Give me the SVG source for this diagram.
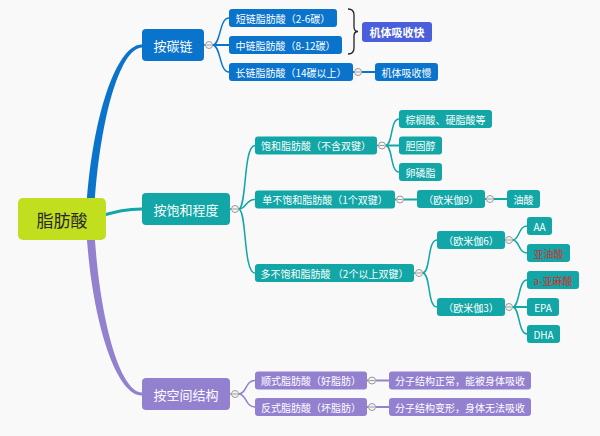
<svg xmlns="http://www.w3.org/2000/svg" width="600" height="436" viewBox="0 0 600 436">
<style>
text{font-family:"Noto Sans CJK SC","Noto Sans",sans-serif;text-anchor:middle;dominant-baseline:central;fill:#fff}
.s{font-size:10px}
.m{font-size:13px}
.b{fill:#0a74cc}
.t{fill:#12a6a6}
.p{fill:#9381d0}
.lb{stroke:#0a74cc;stroke-width:1.5;fill:none}
.lt{stroke:#12a6a6;stroke-width:1.5;fill:none}
.lp{stroke:#9381d0;stroke-width:1.5;fill:none}
.tg circle{fill:#f4f4f4;stroke:#9a9a9a;stroke-width:1}
.tg path{stroke:#9a9a9a;stroke-width:1}
.red{fill:#d0302c}
</style>
<rect width="600" height="436" fill="#f9f9f9"/>
<g id="connectors">
<path d="M86 215 C91 120 116 44 142 44.5 L142 47.5 C120 48 99 120 94 215 Z" fill="#0a74cc"/>
<path d="M86 225 C91 320 116 396 142 395.5 L142 392.5 C120 392 99 320 94 225 Z" fill="#9381d0"/>
<path d="M100 216 C115 212 125 209 142 209" stroke="#12a6a6" stroke-width="3" fill="none"/>
<g class="lb">
<path d="M204 45 L205.5 45"/>
<path d="M212.5 45 C221 45 219 18 229 18"/>
<path d="M212.5 45 L229 45" stroke-width="2"/>
<path d="M212.5 45 C221 45 219 72 229 72"/>
<path d="M353 72 L354.5 72 M361.5 72 L375 72" stroke-width="2"/>
</g>
<g class="lt">
<path d="M230 209 L231.5 209"/>
<path d="M238.5 209 C247 209 243 145.5 255 145.5"/>
<path d="M238.5 209 C247 209 245 199.5 255 199.5"/>
<path d="M238.5 209 C247 209 243 273 255 273"/>
<path d="M377 145.5 L378.5 145.5"/>
<path d="M385.5 145.5 C393 145.5 390 119 399 119"/>
<path d="M385.5 145.5 L399 145.5" stroke-width="2"/>
<path d="M385.5 145.5 C393 145.5 390 172 399 172"/>
<path d="M395 199.5 L396.5 199.5 M403.5 199.5 L417 199.5" stroke-width="2"/>
<path d="M485 199 L486.5 199 M493.5 199 L507 199" stroke-width="2"/>
<path d="M414 273 L415.5 273"/>
<path d="M422.5 273 C431 273 427 240 437 240"/>
<path d="M422.5 273 C431 273 427 307 437 307"/>
<path d="M505 240 L505.5 240 M505 307 L505.5 307"/>
<path d="M512.5 240 C520 240 518 226 527 226"/>
<path d="M512.5 240 C520 240 518 253 527 253"/>
<path d="M512.5 307 C520 307 518 280 527 280"/>
<path d="M512.5 307 L527 307" stroke-width="2"/>
<path d="M512.5 307 C520 307 518 334 527 334"/>
</g>
<g class="lp">
<path d="M230 394 L231.5 394"/>
<path d="M238.5 394 C247 394 245 380.5 255 380.5"/>
<path d="M238.5 394 C247 394 245 407 255 407"/>
<path d="M367 380.5 L368.5 380.5 M375.5 380.5 L389 380.5" stroke-width="2"/>
<path d="M367 407 L368.5 407 M375.5 407 L389 407" stroke-width="2"/>
</g>
<path d="M348 9 Q354 9 354 15 L354 27 Q354 31.5 358 31.5 Q354 31.5 354 36 L354 48 Q354 54 348 54" stroke="#222" stroke-width="1.3" fill="none"/>
</g>
<g id="toggles" class="tg">
<circle cx="209" cy="45" r="3.5"/><path d="M206.5 45 H211.5"/>
<circle cx="358" cy="72" r="3.5"/><path d="M355.5 72 H360.5"/>
<circle cx="235" cy="209" r="3.5"/><path d="M232.5 209 H237.5"/>
<circle cx="382" cy="145.5" r="3.5"/><path d="M379.5 145.5 H384.5"/>
<circle cx="400" cy="199.5" r="3.5"/><path d="M397.5 199.5 H402.5"/>
<circle cx="490" cy="199" r="3.5"/><path d="M487.5 199 H492.5"/>
<circle cx="419" cy="273" r="3.5"/><path d="M416.5 273 H421.5"/>
<circle cx="509" cy="240" r="3.5"/><path d="M506.5 240 H511.5"/>
<circle cx="509" cy="307" r="3.5"/><path d="M506.5 307 H511.5"/>
<circle cx="235" cy="394" r="3.5"/><path d="M232.5 394 H237.5"/>
<circle cx="372" cy="380.5" r="3.5"/><path d="M369.5 380.5 H374.5"/>
<circle cx="372" cy="407" r="3.5"/><path d="M369.5 407 H374.5"/>
</g>
<g id="root"><rect x="18" y="198" width="88" height="42" rx="5" fill="#c1de1f"/><text x="62" y="219" style="font-size:17px;fill:#2a2a2a">脂肪酸</text></g>
<g id="by-chain"><rect class="b" x="142" y="29" width="62" height="32" rx="4"/><text class="m" x="173" y="45">按碳链</text></g>
<g id="by-saturation"><rect class="t" x="142" y="193" width="88" height="32" rx="4"/><text class="m" x="186" y="209">按饱和程度</text></g>
<g id="by-structure"><rect class="p" x="142" y="378" width="88" height="32" rx="4"/><text class="m" x="186" y="394">按空间结构</text></g>
<g id="short"><rect class="b" x="229" y="9" width="108" height="18" rx="3"/><text class="s" x="283" y="18">短链脂肪酸（2-6碳）</text></g>
<g id="medium"><rect class="b" x="229" y="36" width="113" height="18" rx="3"/><text class="s" x="285.5" y="45">中链脂肪酸（8-12碳）</text></g>
<g id="long"><rect class="b" x="229" y="63" width="124" height="18" rx="3"/><text class="s" x="291" y="72">长链脂肪酸（14碳以上）</text></g>
<g id="fast"><rect x="362" y="22" width="70" height="20" rx="3" fill="#4b5fdc"/><text x="397" y="32" style="font-size:11px;font-weight:bold">机体吸收快</text></g>
<g id="slow"><rect class="b" x="375" y="63" width="63" height="18" rx="3"/><text class="s" x="406.5" y="72">机体吸收慢</text></g>
<g id="saturated"><rect class="t" x="255" y="136.5" width="122" height="18" rx="3"/><text class="s" x="316" y="145.5">饱和脂肪酸（不含双键）</text></g>
<g id="mono"><rect class="t" x="255" y="190.5" width="140" height="18" rx="3"/><text class="s" x="325" y="199.5">单不饱和脂肪酸（1个双键）</text></g>
<g id="poly"><rect class="t" x="255" y="264" width="159" height="18" rx="3"/><text class="s" x="334.5" y="273">多不饱和脂肪酸 （2个以上双键）</text></g>
<g id="palmitic"><rect class="t" x="399" y="110" width="93" height="18" rx="3"/><text class="s" x="445.5" y="119">棕榈酸、硬脂酸等</text></g>
<g id="cholesterol"><rect class="t" x="399" y="136.5" width="43" height="18" rx="3"/><text class="s" x="420.5" y="145.5">胆固醇</text></g>
<g id="lecithin"><rect class="t" x="399" y="163" width="43" height="18" rx="3"/><text class="s" x="420.5" y="172">卵磷脂</text></g>
<g id="omega9"><rect class="t" x="417" y="190" width="68" height="18" rx="3"/><text class="s" x="451" y="199">（欧米伽9）</text></g>
<g id="oleic"><rect class="t" x="507" y="190" width="33" height="18" rx="3"/><text class="s" x="523.5" y="199">油酸</text></g>
<g id="omega6"><rect class="t" x="437" y="231" width="68" height="18" rx="3"/><text class="s" x="471" y="240">（欧米伽6）</text></g>
<g id="omega3"><rect class="t" x="437" y="298" width="68" height="18" rx="3"/><text class="s" x="471" y="307">（欧米伽3）</text></g>
<g id="aa"><rect class="t" x="527" y="217" width="25" height="18" rx="3"/><text class="s" x="539.5" y="226">AA</text></g>
<g id="linoleic"><rect class="t" x="527" y="244" width="43" height="18" rx="3"/><text class="s red" x="548.5" y="253">亚油酸</text></g>
<g id="alpha-linolenic"><rect class="t" x="527" y="271" width="52" height="18" rx="3"/><text class="s red" x="553" y="280">a-亚麻酸</text></g>
<g id="epa"><rect class="t" x="527" y="298" width="32" height="18" rx="3"/><text class="s" x="543" y="307">EPA</text></g>
<g id="dha"><rect class="t" x="527" y="325" width="33" height="18" rx="3"/><text class="s" x="543.5" y="334">DHA</text></g>
<g id="cis"><rect class="p" x="255" y="371.5" width="112" height="18" rx="3"/><text class="s" x="311" y="380.5">顺式脂肪酸（好脂肪）</text></g>
<g id="trans"><rect class="p" x="255" y="398" width="112" height="18" rx="3"/><text class="s" x="311" y="407">反式脂肪酸（坏脂肪）</text></g>
<g id="cis-desc"><rect class="p" x="389" y="371.5" width="142" height="18" rx="3"/><text class="s" x="460" y="380.5">分子结构正常，能被身体吸收</text></g>
<g id="trans-desc"><rect class="p" x="389" y="398" width="142" height="18" rx="3"/><text class="s" x="460" y="407">分子结构变形，身体无法吸收</text></g>
</svg>
